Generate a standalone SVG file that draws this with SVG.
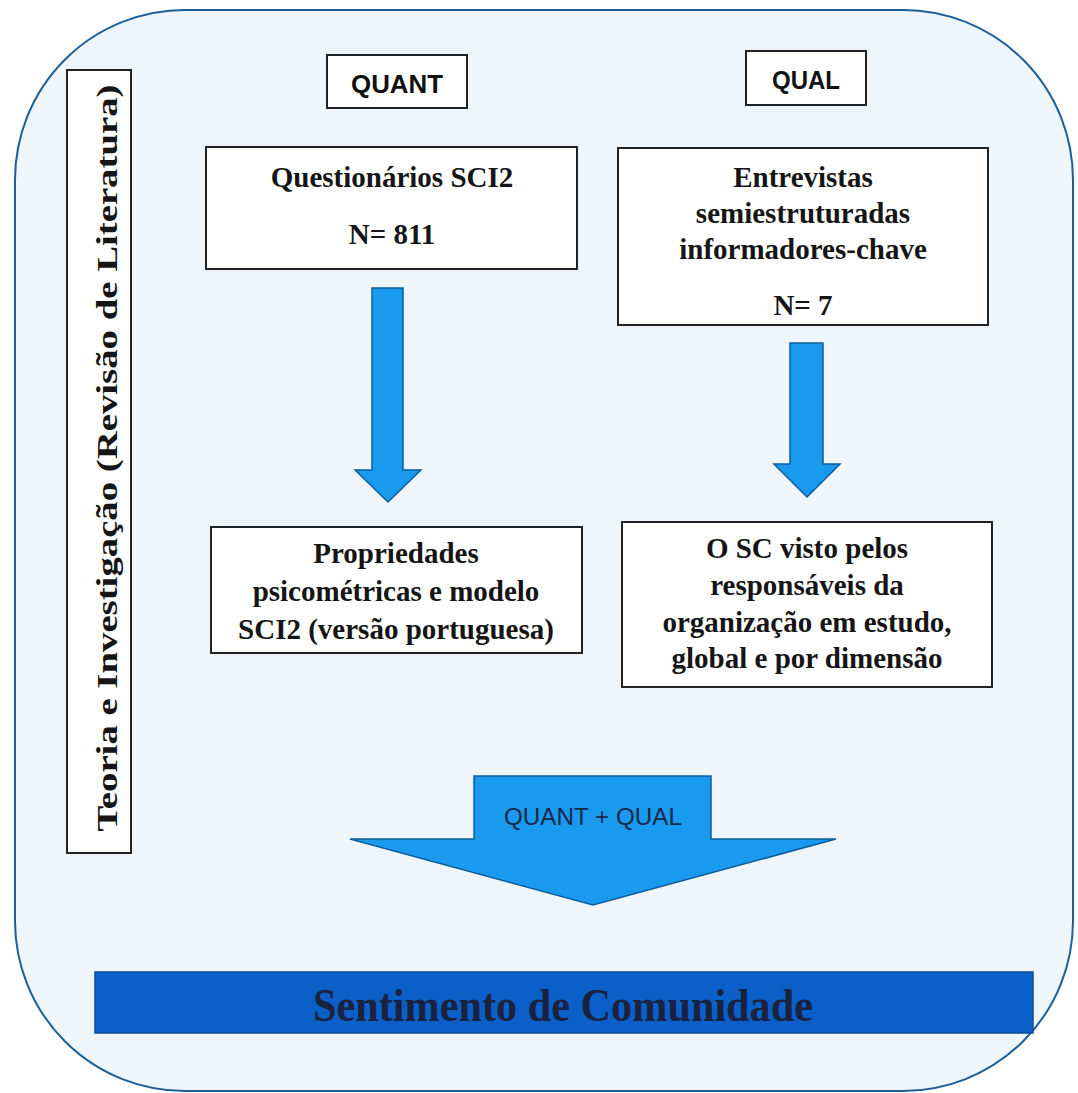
<svg xmlns="http://www.w3.org/2000/svg" width="1078" height="1093" viewBox="0 0 1078 1093">
<style>
.box{fill:#ffffff;stroke:#222222;stroke-width:2}
.lbl{font-family:"Liberation Sans",Arial,sans-serif;font-weight:bold;font-size:25px;fill:#111111;text-anchor:middle}
.serif{font-family:"Liberation Serif","Times New Roman",serif;font-weight:bold;font-size:29px;fill:#151515;text-anchor:middle}
.arrow{fill:#1a9aef;stroke:#0e5d9c;stroke-width:1.5;stroke-linejoin:miter}
</style>
<rect x="0" y="0" width="1078" height="1093" fill="#ffffff"/>
<rect id="frame" x="15" y="10" width="1058" height="1081" rx="170" ry="170" fill="#eef5fb" stroke="#1d5f99" stroke-width="2"/>
<g id="side-label">
<rect class="box" x="67" y="70" width="64" height="783"/>
<text class="serif" transform="translate(117,458) rotate(-90)" font-size="45" textLength="747" lengthAdjust="spacingAndGlyphs">Teoria e Investigação (Revisão de Literatura)</text>
</g>
<g id="quant">
<rect class="box" x="327" y="55" width="140" height="53"/>
<text class="lbl" x="397" y="93" textLength="92" lengthAdjust="spacingAndGlyphs">QUANT</text>
</g>
<g id="qual">
<rect class="box" x="746" y="51" width="120" height="54"/>
<text class="lbl" x="806" y="89" textLength="68" lengthAdjust="spacingAndGlyphs">QUAL</text>
</g>
<g id="questionarios">
<rect class="box" x="206" y="147" width="371" height="122"/>
<text class="serif" x="392" y="187">Questionários SCI2</text>
<text class="serif" x="392" y="244">N= 811</text>
</g>
<g id="entrevistas">
<rect class="box" x="618" y="148" width="370" height="177"/>
<text class="serif" x="803" y="187">Entrevistas</text>
<text class="serif" x="803" y="223">semiestruturadas</text>
<text class="serif" x="803" y="259">informadores-chave</text>
<text class="serif" x="803" y="315">N= 7</text>
</g>
<g id="propriedades">
<rect class="box" x="211" y="527" width="371" height="126"/>
<text class="serif" x="396" y="563">Propriedades</text>
<text class="serif" x="396" y="601">psicométricas e modelo</text>
<text class="serif" x="396" y="639">SCI2 (versão portuguesa)</text>
</g>
<g id="osc">
<rect class="box" x="622" y="522" width="370" height="165"/>
<text class="serif" x="807" y="558">O SC visto pelos</text>
<text class="serif" x="807" y="595">responsáveis da</text>
<text class="serif" x="807" y="632">organização em estudo,</text>
<text class="serif" x="807" y="668">global e por dimensão</text>
</g>
<g id="connectors">
<polygon class="arrow" points="372,288 403,288 403,470 421,470 388,502 355,470 372,470"/>
<polygon class="arrow" points="790,343 823,343 823,464 840,464 807,497 774,464 790,464"/>
<polygon class="arrow" points="474,776 711,776 711,839 836,839 593,905 350,839 474,839"/>
<text x="593" y="825" font-family="Liberation Sans,Arial,sans-serif" font-size="24" fill="#16284a" text-anchor="middle" textLength="178" lengthAdjust="spacingAndGlyphs">QUANT + QUAL</text>
</g>
<g id="sentimento">
<rect x="95" y="972" width="938" height="61" fill="#0a60c8" stroke="#0b4d9a" stroke-width="1.5"/>
<text x="563" y="1021" font-family="Liberation Serif,Times New Roman,serif" font-weight="bold" font-size="47" fill="#1b2240" text-anchor="middle" textLength="500" lengthAdjust="spacingAndGlyphs">Sentimento de Comunidade</text>
</g>
</svg>
